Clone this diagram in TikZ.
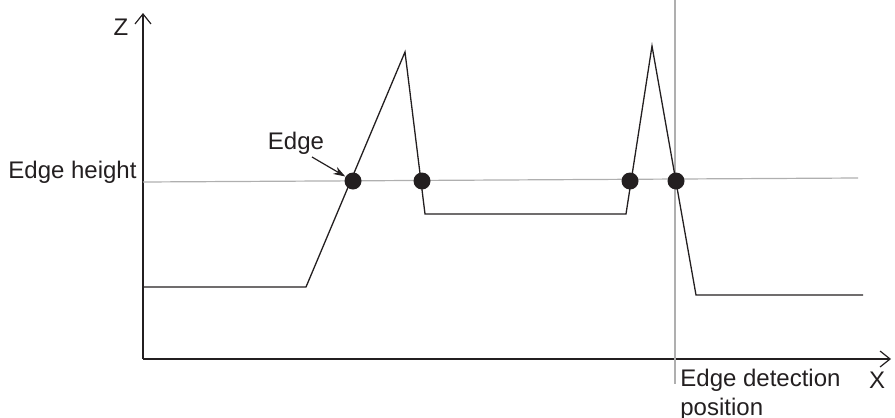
\documentclass[tikz,border=0pt]{standalone}
\usepackage{fontspec}
\setmainfont{Liberation Sans}
\usepackage{xcolor}
\definecolor{inkdark}{RGB}{35,31,32}
\definecolor{guidegray}{RGB}{175,175,175}
\usetikzlibrary{arrows.meta,positioning}
\tikzset{
  axis_line/.style={draw=inkdark,line width=0.6pt,-{Straight Barb[length=5pt,width=8pt]}},
  guide_line/.style={draw=guidegray,line width=0.6pt},
  profile_line/.style={draw=inkdark,line width=0.65pt,line join=miter},
  hit_dot/.style={circle,fill=inkdark,inner sep=0pt,minimum size=8.5pt},
  lbl/.style={text=inkdark,inner sep=0pt,font=\fontsize{12}{14.5}\selectfont},
  arr/.style={-{Stealth[length=6pt,width=4pt]},line width=0.6pt,draw=inkdark},
}

\begin{document}
\begin{tikzpicture}[x=0.5pt,y=-0.5pt]
  \useasboundingbox (0,0) rectangle (895,418);
  % axes
  \coordinate (orig) at (143,359);
  \coordinate (ztip) at (143,13);
  \coordinate (xtip) at (891,359);
  \draw[axis_line] (orig) -- (ztip);
  \draw[axis_line] (orig) -- (xtip);
  \node (zlbl) [lbl] at (121,27) {Z};
  \node (xlbl) [lbl] at (877,380) {X};
  % guide lines
  \coordinate (hl) at (143,182);
  \coordinate (hr) at (858,178);
  \coordinate (vt) at (675,0);
  \coordinate (vb) at (675,384);
  \draw[guide_line] (hl) -- (hr);
  \draw[guide_line] (vt) -- (vb);
  % height profile
  \coordinate (p0) at (143,287);
  \coordinate (p1) at (306,287);
  \coordinate (p2) at (405,52);
  \coordinate (p3) at (425,214);
  \coordinate (p4) at (626,214);
  \coordinate (p5) at (652,46);
  \coordinate (p6) at (696,295);
  \coordinate (p7) at (863,295);
  \draw[profile_line] (p0) -- (p1) -- (p2) -- (p3) -- (p4) -- (p5) -- (p6) -- (p7);
  % crossings
  \node (e1) [hit_dot] at (353,181) {};
  \node (e2) [hit_dot] at (422,181) {};
  \node (e3) [hit_dot] at (630,181) {};
  \node (e4) [hit_dot] at (676,181) {};
  % labels
  \node (hlbl) [lbl,anchor=west] at (8,172) {Edge height};
  \node (elbl) [lbl] at (296,143) {Edge};
  \draw[arr] (312,157) -- (e1);
  \node (plbl) [lbl,anchor=north west,align=left] at (680,369) {Edge detection\\position};
\end{tikzpicture}
\end{document}
